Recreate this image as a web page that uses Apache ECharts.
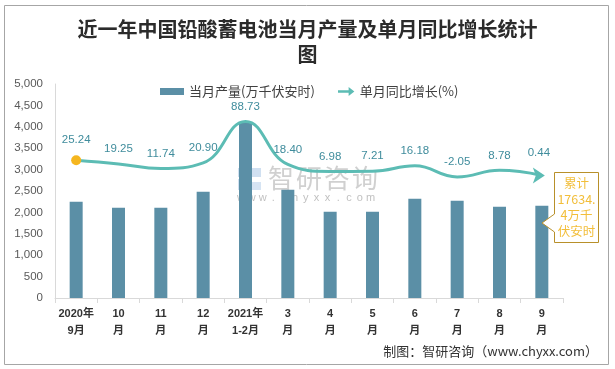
<!DOCTYPE html>
<html><head><meta charset="utf-8">
<script src="https://cdn.jsdelivr.net/npm/echarts@6/dist/echarts.min.js"></script>
<style>html,body{margin:0;padding:0;background:#fff}#c{width:615px;height:369px}</style>
</head><body><div id="c"></div>
<script>
const categories = ['2020年\n9月','10\n月','11\n月','12\n月','2021年\n1-2月','3\n月','4\n月','5\n月','6\n月','7\n月','8\n月','9\n月'];
const output = [2250, 2110, 2110, 2484, 4100, 2530, 2016, 2016, 2320, 2273, 2133, 2157];
const growth = [25.24, 19.25, 11.74, 20.90, 88.73, 18.40, 6.98, 7.21, 16.18, -2.05, 8.78, 0.44];
const yTicks = [0, 500, 1000, 1500, 2000, 2500, 3000, 3500, 4000, 4500, 5000];
const barName = '当月产量(万千伏安时)';
const lineName = '单月同比增长(%)';
const titleText = '近一年中国铅酸蓄电池当月产量及单月同比增长统计\n图';
const noteLines = ['累计', '17634.', '4万千', '伏安时'];

const chart = echarts.init(document.getElementById('c'), null, {renderer: 'canvas'});
const lineData = growth.map((v, i) => {
  if (i === 0) return {value: v, symbol: 'circle', symbolSize: 10, itemStyle: {color: '#f5b61f'}};
  if (i === growth.length - 1) return {value: v, symbol: 'arrow', symbolSize: [12, 12], symbolRotate: -90, symbolOffset: [3, 0], itemStyle: {color: '#5cbcb4'}};
  return {value: v, symbol: 'circle', symbolSize: 0};
});
const cjk = '"Noto Sans CJK SC", sans-serif';
const wmChars = '智研咨询'.split('');
const wmUrl = 'www.chyxx.com'.split('');
const wmGraphics = wmChars.map((ch, i) => ({type: 'text', x: 268 + i * 28, y: 178,
  style: {text: ch, fontSize: 26, fill: 'rgba(170,170,170,0.55)', fontFamily: cjk, textVerticalAlign: 'middle'}}))
  .concat(wmUrl.map((ch, i) => ({type: 'text', x: 241 + i * 10.8, y: 198,
  style: {text: ch, fontSize: 11, fill: 'rgba(150,150,150,0.6)', fontFamily: '"Liberation Sans", sans-serif', textAlign: 'center', textVerticalAlign: 'middle'}})));
chart.setOption({
  animation: false,
  backgroundColor: '#fff',
  title: {
    text: titleText, left: 'center', top: 12,
    textStyle: {fontSize: 20, fontWeight: 'bold', color: '#2b2b2b', lineHeight: 25, fontFamily: cjk}
  },
  legend: [
    {data: [{name: barName, icon: 'rect'}], left: 155, top: 80, itemWidth: 24, itemHeight: 7, itemGap: 4,
     textStyle: {fontSize: 13, color: '#404040', fontFamily: cjk}},
    {data: [{name: lineName, icon: 'path://M0,5 L13,5 L13,1 L20,6.5 L13,12 L13,8 L0,8 Z'}], left: 333, top: 80, itemWidth: 17, itemHeight: 9,
     textStyle: {fontSize: 13, color: '#404040', fontFamily: cjk}}
  ],
  grid: {left: 55, right: 52, top: 84, bottom: 71},
  xAxis: {
    type: 'category', data: categories,
    axisLine: {lineStyle: {color: '#d9d9d9'}},
    axisTick: {show: true, length: 5, lineStyle: {color: '#d9d9d9'}},
    axisLabel: {fontSize: 11, fontWeight: 'bold', color: '#333', lineHeight: 17, margin: 7, interval: 0, fontFamily: '"Liberation Sans", ' + cjk}
  },
  yAxis: [
    {type: 'value', min: yTicks[0], max: yTicks[yTicks.length - 1], interval: 500,
     axisLine: {show: true, lineStyle: {color: '#d9d9d9'}}, axisTick: {show: false}, splitLine: {show: false},
     axisLabel: {fontSize: 11.5, color: '#595959', margin: 12, fontFamily: '"Liberation Sans", sans-serif',
       formatter: v => v.toLocaleString('en-US')}},
    {type: 'value', min: -200, max: 150, show: false, splitLine: {show: false}}
  ],
  series: [
    {name: barName, type: 'bar', data: output, barWidth: 13, itemStyle: {color: '#5b8fa6'}, z: 1},
    {name: lineName, type: 'line', yAxisIndex: 1, data: lineData, smooth: 0.45,
     lineStyle: {color: '#5cbcb4', width: 3}, itemStyle: {color: '#5cbcb4'}, z: 3,
     label: {show: true, position: 'top', distance: 9, fontSize: 11.5, color: '#3f8c9c', fontFamily: '"Liberation Sans", sans-serif',
       formatter: p => p.value.toFixed(2)}}
  ],
  graphic: [
    {type: 'rect', shape: {x: 4.5, y: 5.5, width: 604, height: 359}, style: {fill: 'none', stroke: '#a6a6a6', lineWidth: 1}, silent: true, z: 0},
    {type: 'text', right: 17, top: 345, style: {text: '制图：智研咨询（www.chyxx.com）', fontSize: 13, fill: '#333', fontFamily: cjk}},
    {type: 'group', z: 10, children: [
      {type: 'rect', shape: {x: 238, y: 168, width: 10, height: 9}, style: {fill: 'rgba(120,165,215,0.35)'}},
      {type: 'rect', shape: {x: 250, y: 168, width: 11, height: 9}, style: {fill: 'rgba(120,165,215,0.35)'}},
      {type: 'rect', shape: {x: 238, y: 179, width: 10, height: 11}, style: {fill: 'rgba(120,165,215,0.35)'}},
      {type: 'rect', shape: {x: 250, y: 182, width: 11, height: 8}, style: {fill: 'rgba(120,165,215,0.3)'}}
    ].concat(wmGraphics)},
    {type: 'polygon', z: 20, shape: {points: [[554.5,172.5],[598.5,172.5],[598.5,242.5],[554.5,242.5],[554.5,232],[542,223],[554.5,214]]},
     style: {fill: '#fff', stroke: '#b8902a', lineWidth: 1}},
    {type: 'text', z: 21, x: 576.5, y: 207, style: {text: noteLines.join('\n'), fontSize: 12.5, lineHeight: 16, fill: '#f2be3a', fontFamily: cjk, textAlign: 'center', textVerticalAlign: 'middle'}}
  ]
});
</script></body></html>
